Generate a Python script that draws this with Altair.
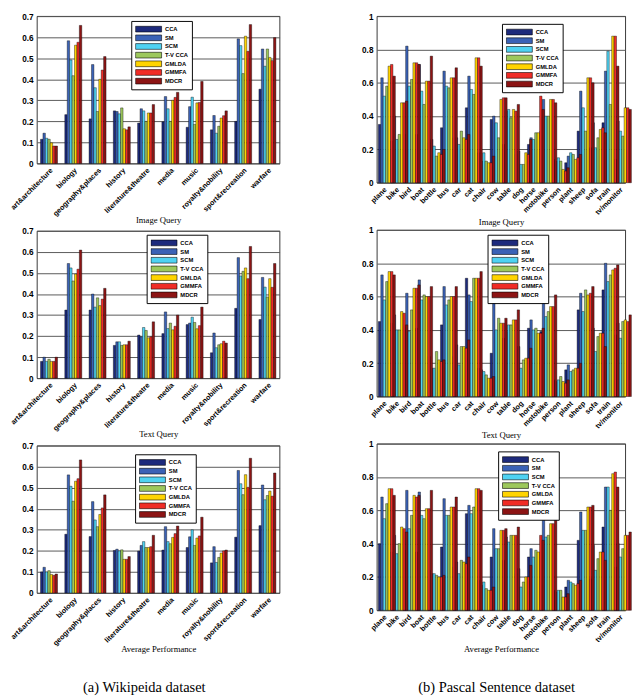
import altair as alt
import pandas as pd

methods = ["CCA", "SM", "SCM", "T-V CCA", "GMLDA", "GMMFA", "MDCR"]
colors = ["#1d2a7c", "#3b62b6", "#4fd2f2", "#9dc85c", "#ffd400", "#f02c26", "#8c1414"]

wiki_cats = ["art&architecture", "biology", "geography&places", "history",
             "literature&theatre", "media", "music", "royalty&nobility",
             "sport&recreation", "warfare"]

pascal_cats = ["plane", "bike", "bird", "boat", "bottle", "bus", "car", "cat",
               "chair", "cow", "table", "dog", "horse", "motobike", "person",
               "plant", "sheep", "sofa", "train", "tv/monitor"]

# Wikipedia - Image Query
wiki_image = {
    "CCA":     [0.115, 0.232, 0.212, 0.250, 0.192, 0.198, 0.172, 0.160, 0.200, 0.353],
    "SM":      [0.144, 0.583, 0.470, 0.247, 0.260, 0.318, 0.270, 0.228, 0.592, 0.544],
    "SCM":     [0.120, 0.492, 0.360, 0.236, 0.250, 0.260, 0.315, 0.144, 0.560, 0.462],
    "T-V CCA": [0.115, 0.417, 0.247, 0.264, 0.200, 0.200, 0.186, 0.177, 0.427, 0.544],
    "GMLDA":   [0.098, 0.562, 0.400, 0.165, 0.240, 0.300, 0.288, 0.216, 0.605, 0.504],
    "GMMFA":   [0.083, 0.576, 0.444, 0.160, 0.240, 0.314, 0.290, 0.227, 0.533, 0.489],
    "MDCR":    [0.083, 0.656, 0.508, 0.174, 0.280, 0.338, 0.390, 0.250, 0.660, 0.598],
}
# Wikipedia - Text Query
wiki_text = {
    "CCA":     [0.080, 0.324, 0.324, 0.156, 0.205, 0.212, 0.255, 0.121, 0.332, 0.279],
    "SM":      [0.100, 0.545, 0.400, 0.173, 0.197, 0.315, 0.262, 0.215, 0.573, 0.479],
    "SCM":     [0.080, 0.524, 0.338, 0.173, 0.241, 0.236, 0.290, 0.145, 0.486, 0.433],
    "T-V CCA": [0.090, 0.462, 0.382, 0.156, 0.227, 0.262, 0.265, 0.159, 0.508, 0.386],
    "GMLDA":   [0.080, 0.495, 0.345, 0.159, 0.192, 0.230, 0.235, 0.164, 0.524, 0.473],
    "GMMFA":   [0.080, 0.518, 0.376, 0.159, 0.197, 0.247, 0.250, 0.176, 0.473, 0.432],
    "MDCR":    [0.100, 0.609, 0.427, 0.176, 0.268, 0.300, 0.338, 0.167, 0.626, 0.545],
}
# Wikipedia - Average Performance
wiki_avg = {
    "CCA":     [0.100, 0.279, 0.268, 0.202, 0.199, 0.204, 0.216, 0.143, 0.265, 0.320],
    "SM":      [0.122, 0.561, 0.434, 0.208, 0.226, 0.315, 0.267, 0.220, 0.582, 0.513],
    "SCM":     [0.100, 0.507, 0.347, 0.200, 0.244, 0.244, 0.300, 0.145, 0.519, 0.443],
    "T-V CCA": [0.106, 0.436, 0.315, 0.205, 0.216, 0.234, 0.226, 0.169, 0.467, 0.463],
    "GMLDA":   [0.088, 0.531, 0.373, 0.160, 0.216, 0.264, 0.261, 0.190, 0.562, 0.484],
    "GMMFA":   [0.084, 0.543, 0.404, 0.160, 0.220, 0.282, 0.271, 0.200, 0.502, 0.460],
    "MDCR":    [0.090, 0.632, 0.466, 0.173, 0.274, 0.318, 0.360, 0.204, 0.640, 0.570],
}

# Pascal Sentence - Image Query
pascal_image = {
    "CCA":     [0.35, 0.25, 0.29, 0.29, 0.24, 0.33, 0.27, 0.45, 0.18, 0.38, 0.23, 0.17, 0.23, 0.31, 0.14, 0.12, 0.31, 0.21, 0.36, 0.14],
    "SM":      [0.63, 0.40, 0.82, 0.71, 0.26, 0.67, 0.27, 0.64, 0.13, 0.40, 0.43, 0.19, 0.27, 0.50, 0.13, 0.16, 0.55, 0.36, 0.67, 0.37],
    "SCM":     [0.52, 0.26, 0.58, 0.55, 0.22, 0.58, 0.23, 0.56, 0.18, 0.36, 0.44, 0.11, 0.26, 0.40, 0.15, 0.18, 0.45, 0.21, 0.79, 0.31],
    "T-V CCA": [0.58, 0.29, 0.62, 0.47, 0.16, 0.57, 0.31, 0.53, 0.13, 0.27, 0.39, 0.11, 0.30, 0.40, 0.13, 0.17, 0.31, 0.27, 0.47, 0.28],
    "GMLDA":   [0.70, 0.48, 0.72, 0.61, 0.18, 0.63, 0.27, 0.75, 0.12, 0.50, 0.44, 0.18, 0.30, 0.50, 0.08, 0.14, 0.63, 0.32, 0.88, 0.45],
    "GMMFA":   [0.71, 0.48, 0.72, 0.61, 0.17, 0.63, 0.26, 0.75, 0.12, 0.51, 0.43, 0.17, 0.52, 0.50, 0.07, 0.15, 0.63, 0.33, 0.88, 0.45],
    "MDCR":    [0.64, 0.49, 0.71, 0.76, 0.20, 0.69, 0.29, 0.70, 0.16, 0.51, 0.47, 0.26, 0.44, 0.48, 0.09, 0.17, 0.60, 0.30, 0.70, 0.44],
}
# Pascal Sentence - Text Query
pascal_text = {
    "CCA":     [0.45, 0.44, 0.42, 0.41, 0.24, 0.43, 0.24, 0.71, 0.17, 0.26, 0.35, 0.28, 0.41, 0.39, 0.10, 0.16, 0.52, 0.16, 0.64, 0.37],
    "SM":      [0.73, 0.49, 0.62, 0.70, 0.17, 0.66, 0.31, 0.61, 0.16, 0.57, 0.39, 0.30, 0.46, 0.59, 0.09, 0.19, 0.62, 0.41, 0.80, 0.44],
    "SCM":     [0.58, 0.40, 0.39, 0.58, 0.17, 0.55, 0.19, 0.57, 0.15, 0.40, 0.43, 0.17, 0.40, 0.48, 0.10, 0.15, 0.51, 0.27, 0.69, 0.35],
    "T-V CCA": [0.69, 0.40, 0.52, 0.61, 0.27, 0.58, 0.30, 0.71, 0.13, 0.47, 0.43, 0.22, 0.41, 0.51, 0.12, 0.16, 0.64, 0.36, 0.73, 0.45],
    "GMLDA":   [0.75, 0.51, 0.65, 0.60, 0.22, 0.60, 0.30, 0.71, 0.11, 0.44, 0.46, 0.23, 0.38, 0.54, 0.09, 0.17, 0.61, 0.38, 0.76, 0.46],
    "GMMFA":   [0.75, 0.50, 0.65, 0.60, 0.21, 0.60, 0.29, 0.71, 0.11, 0.44, 0.46, 0.23, 0.38, 0.54, 0.08, 0.17, 0.62, 0.38, 0.77, 0.45],
    "MDCR":    [0.73, 0.43, 0.67, 0.66, 0.22, 0.66, 0.34, 0.75, 0.12, 0.47, 0.52, 0.29, 0.41, 0.61, 0.10, 0.20, 0.66, 0.30, 0.79, 0.49],
}
# Pascal Sentence - Average Performance
pascal_avg = {
    "CCA":     [0.40, 0.35, 0.36, 0.35, 0.24, 0.38, 0.26, 0.58, 0.18, 0.32, 0.30, 0.22, 0.32, 0.35, 0.12, 0.14, 0.42, 0.19, 0.50, 0.26],
    "SM":      [0.68, 0.45, 0.72, 0.71, 0.22, 0.67, 0.29, 0.63, 0.15, 0.49, 0.44, 0.25, 0.37, 0.55, 0.11, 0.18, 0.59, 0.39, 0.74, 0.40],
    "SCM":     [0.55, 0.34, 0.49, 0.57, 0.22, 0.57, 0.22, 0.58, 0.17, 0.37, 0.41, 0.14, 0.32, 0.44, 0.12, 0.17, 0.48, 0.24, 0.74, 0.32],
    "T-V CCA": [0.64, 0.40, 0.57, 0.55, 0.21, 0.57, 0.30, 0.62, 0.13, 0.37, 0.45, 0.17, 0.36, 0.45, 0.12, 0.16, 0.48, 0.31, 0.60, 0.37],
    "GMLDA":   [0.73, 0.50, 0.69, 0.61, 0.20, 0.62, 0.29, 0.73, 0.12, 0.48, 0.45, 0.20, 0.35, 0.52, 0.08, 0.15, 0.62, 0.35, 0.82, 0.45],
    "GMMFA":   [0.73, 0.49, 0.68, 0.61, 0.20, 0.62, 0.28, 0.73, 0.12, 0.48, 0.45, 0.20, 0.45, 0.52, 0.08, 0.16, 0.62, 0.35, 0.83, 0.45],
    "MDCR":    [0.69, 0.47, 0.69, 0.72, 0.21, 0.68, 0.32, 0.72, 0.14, 0.49, 0.50, 0.27, 0.42, 0.55, 0.10, 0.18, 0.63, 0.30, 0.74, 0.47],
}

wiki_ticks = [0, 0.1, 0.2, 0.3, 0.4, 0.5, 0.6, 0.7]
pascal_ticks = [0, 0.2, 0.4, 0.6, 0.8, 1.0]


def panel(cats, values, ticks, width, height, title, lx, ly, title_y, pad_inner):
    rows = []
    for m in methods:
        for c, v in zip(cats, values[m]):
            rows.append({"cat": c, "method": m, "value": v})
    df = pd.DataFrame(rows)
    return alt.Chart(df).mark_bar(stroke="black", strokeWidth=0.4).encode(
        x=alt.X("cat:N", sort=cats,
                scale=alt.Scale(paddingInner=pad_inner, paddingOuter=pad_inner / 2),
                axis=alt.Axis(title=title, labelAngle=-45, labelAlign="right",
                              labelBaseline="top", labelPadding=3, ticks=False,
                              domain=False, labelFont="Liberation Sans",
                              labelFontWeight="bold", labelFontSize=7.5,
                              labelColor="black", titleFont="Liberation Serif",
                              titleFontWeight="normal", titleFontSize=9,
                              titleColor="black", titleY=title_y)),
        xOffset=alt.XOffset("method:N", sort=methods),
        y=alt.Y("value:Q", scale=alt.Scale(domain=[ticks[0], ticks[-1]], nice=False),
                axis=alt.Axis(title=None, values=ticks, format=".1~f", grid=True,
                              gridColor="#555555", gridWidth=1, ticks=False,
                              domain=False, labelFont="Liberation Sans",
                              labelFontWeight="bold", labelFontSize=8.5,
                              labelColor="black", labelPadding=4)),
        color=alt.Color("method:N", sort=methods,
                        scale=alt.Scale(domain=methods, range=colors),
                        legend=alt.Legend(orient="none", legendX=lx, legendY=ly,
                                          title=None,
                                          symbolType="M-1,-0.22H1V0.22H-1Z",
                                          symbolSize=729, clipHeight=9,
                                          symbolStrokeColor="black",
                                          symbolStrokeWidth=0.6,
                                          symbolOpacity=1, symbolOffset=0,
                                          labelFont="Liberation Sans",
                                          labelFontWeight="bold",
                                          labelFontSize=6, labelColor="black",
                                          labelOffset=3, rowPadding=0,
                                          fillColor="white",
                                          strokeColor="black", padding=4)),
    ).properties(width=width, height=height)


LW, LH = 252, 153
RW, RH = 258, 173

left = alt.vconcat(
    panel(wiki_cats, wiki_image, wiki_ticks, LW, LH, "Image Query", 98, 5, 54, 0.3),
    panel(wiki_cats, wiki_text, wiki_ticks, LW, LH, "Text Query", 114, 4, 54, 0.3),
    panel(wiki_cats, wiki_avg, wiki_ticks, LW, LH, "Average Performance", 102, 9, 54, 0.3),
    spacing=70, bounds="flush",
).resolve_legend(color="independent").properties(
    title=alt.TitleParams("(a) Wikipeida dataset", orient="bottom", anchor="middle",
                          font="Liberation Serif", fontSize=15,
                          fontWeight="normal", color="black", offset=27)
)

right = alt.vconcat(
    panel(pascal_cats, pascal_image, pascal_ticks, RW, RH, "Image Query", 130, 8, 36, 0.25),
    panel(pascal_cats, pascal_text, pascal_ticks, RW, RH, "Text Query", 115, 5, 36, 0.25),
    panel(pascal_cats, pascal_avg, pascal_ticks, RW, RH, "Average Performance", 126, 8, 36, 0.25),
    spacing=49, bounds="flush",
).resolve_legend(color="independent").properties(
    title=alt.TitleParams("(b) Pascal Sentence dataset", orient="bottom", anchor="middle",
                          font="Liberation Serif", fontSize=15,
                          fontWeight="normal", color="black", offset=27)
)

chart = alt.hconcat(left, right, spacing=83).resolve_legend(
    color="independent"
).properties(
    padding={"left": 0, "top": -10, "right": 0, "bottom": 0}
).configure_view(stroke="black", strokeWidth=0.8)

chart.save("out.html", embed_options={"renderer": "svg", "actions": False})
